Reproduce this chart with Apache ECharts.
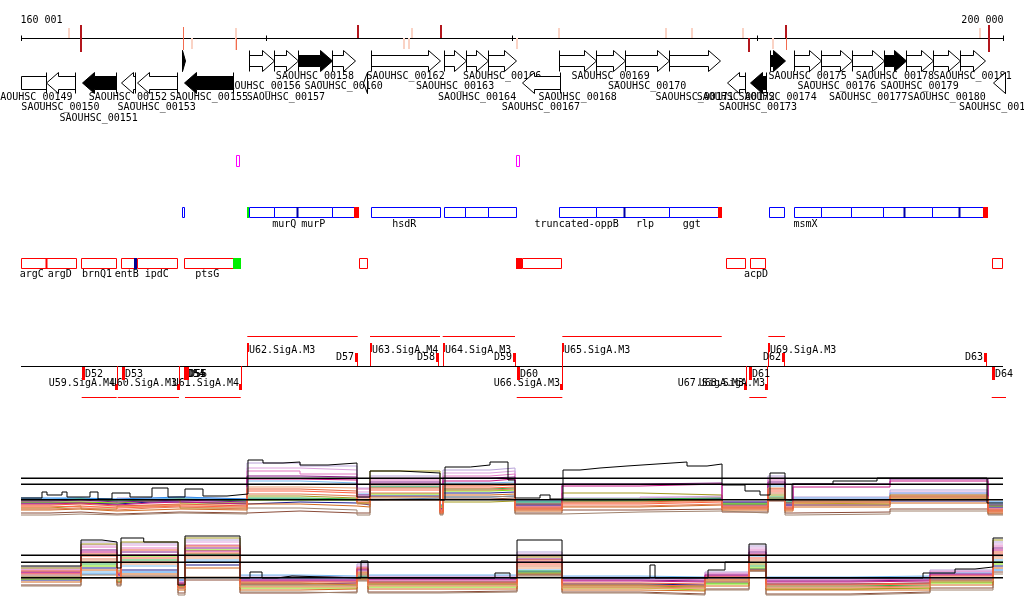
<!DOCTYPE html>
<html><head><meta charset="utf-8">
<script src="https://cdn.jsdelivr.net/npm/echarts@6/dist/echarts.min.js"></script>
<style>html,body{margin:0;padding:0;background:#fff}#c{width:1024px;height:611px}</style>
</head><body><div id="c"></div>
<script>
// ================= DATA =================
const rangeStart = 160001, rangeEnd = 200000;
const rulerTicks = [160001, 170000, 180000, 190000, 200000];
const rulerLabels = ['160 001', '200 000'];

const markPos  = [161936,162445,166600,166966,168759,168759,173728,175602,175805,175928,177109,180205,181915,186274,187333,189410,189655,190632,191162,191162,199064,199431];
const markKind = ['La','D','S','Lb','L','Sb','Da','Lb','Lb','La','Da','Lb','La','La','La','La','Db','Lb','Da','Sb','La','D'];

const geneStart = [159000,161007,162473,164062,164714,166547,166653,169300,170306,171272,172681,173932,174258,177244,178115,179036,180396,181928,183423,184604,186409,188747,189695,190510,191500,192588,193863,195154,196038,197162,198249,199607];
const geneEnd   = [161007,162213,163858,164645,166343,166681,168649,170306,171272,172681,173606,174095,177069,178115,179036,180152,181956,183423,184604,186409,188473,189492,190347,191122,192588,193863,195154,196038,197162,198249,199268,200080];
const geneStrand = [-1,-1,-1,-1,-1,1,-1,1,1,1,1,-1,1,1,1,1,-1,1,1,1,1,-1,-1,1,1,1,1,1,1,1,1,-1];
const geneHighlight = [0,0,1,0,0,1,1,0,0,1,0,0,0,0,0,0,0,0,0,0,0,0,1,1,0,0,0,1,0,0,0,0];
const geneName = ['SAOUHSC_00149','SAOUHSC_00150','SAOUHSC_00151','SAOUHSC_00152','SAOUHSC_00153','','SAOUHSC_00155','SAOUHSC_00156','SAOUHSC_00157','SAOUHSC_00158','SAOUHSC_00160','','SAOUHSC_00162','SAOUHSC_00163','SAOUHSC_00164','SAOUHSC_00166','SAOUHSC_00167','SAOUHSC_00168','SAOUHSC_00169','SAOUHSC_00170','SAOUHSC_00171','SAOUHSC_00172','SAOUHSC_00173','SAOUHSC_00174','SAOUHSC_00175','SAOUHSC_00176','SAOUHSC_00177','SAOUHSC_00178','SAOUHSC_00179','SAOUHSC_00180','SAOUHSC_00181','SAOUHSC_00182'];

const pinkStart = [168759, 180164];
const pinkEnd   = [168881, 180274];

const blueStart = [166559,169207,169300,170319,171231,172681,173565,174270,177244,178099,179036,181928,183423,184575,186396,188404,190481,191476,192576,193822,195125,195967,197122,198209,199198,171231,184575,195967,198209];
const blueEnd   = [166653,169300,170319,171231,172681,173565,173757,177056,178099,179036,180152,183423,184575,186396,188404,188567,191081,192576,193822,195125,195967,197122,198209,199198,199402,171231,184575,195967,198209];
const blueKind  = ['box','green','box','box','box','box','red','box','box','box','box','box','box','box','box','red','box','box','box','box','box','box','box','box','red','navyline','navyline','navyline','navyline'];
const blueLabelPos  = [170726,171907,175614,182636,185419,187320,191956];
const blueLabelText = ['murQ','murP','hsdR','truncated-oppB','rlp','ggt','msmX'];

const redStart = [160001,161007,162445,164074,164726,166640,173781,180396,188706,189683,199553,161007,164616,168649,180164];
const redEnd   = [161007,162229,163858,164616,166367,168649,174082,181984,189492,190307,199973,161007,164726,168950,180396];
const redKind  = ['box','box','box','box','box','box','box','box','box','box','box','div','navy','green','red'];
const redLabelPos  = [160437,161577,163097,164306,165528,167590,189940];
const redLabelText = ['argC','argD','brnQ1','entB','ipdC','ptsG','acpD'];

const fwdUnitStart = [169219,174217,177178,182050,190441];
const fwdUnitEnd   = [173716,177069,180123,188543,191122];
const revUnitStart = [162473,163940,166681,180193,189667,199541];
const revUnitEnd   = [163899,166437,168950,182050,190376,200400];
const promPos    = [169219,174217,177178,182050,190441,163899,166437,168950,182050,189520,190376];
const promStrand = [1,1,1,1,1,-1,-1,-1,-1,-1,-1];
const promName   = ['U62.SigA.M3','U63.SigA.M4','U64.SigA.M3','U65.SigA.M3','U69.SigA.M3','U59.SigA.M4','U60.SigA.M3','U61.SigA.M4','U66.SigA.M3','U67.SigA.M3','U68.SigA.M3'];
const termPos    = [173716,177040,180164,191121,199361,162473,164103,166653,166680,166705,180193,189667,199566];
const termStrand = [1,1,1,1,1,-1,-1,-1,-1,-1,-1,-1,-1];
const termName   = ['D57','D58','D59','D62','D63','D52','D53','D54','D55','D56','D60','D61','D64'];

// coverage, forward strand (panel 1): segment breakpoints and levels per sample
const fwdBreaks = [160001,161182,162445,163911,165256,166478,169207,171366,173687,174217,177068,177190,179105,180123,182038,185215,188555,190429,191121,191447,195398,199390,200000];
const fwdLilac   = [25,26,24,27,28,26,62,59,37,49,20,55,57,22,27,29,22,49,21,28,35,19];
const fwdPlum    = [23,24,22,25,26,24,57,55,33,47,18,52,54,20,25,28,20,47,19,26,33,17];
const fwdPink    = [22,23,21,23,24,22,54,51,36,45,17,49,51,19,26,27,21,45,20,25,31,18];
const fwdLblue   = [26,27,25,26,27,25,44,42,31,39,17,42,43,23,24,25,22,39,23,27,32,21];
const fwdDodger  = [27,27,26,27,28,26,26,25,25,27,20,28,29,24,25,26,23,26,24,25,26,23];
const fwdNavy    = [22,22,21,23,23,21,23,22,20,29,16,32,33,20,25,26,20,25,20,20,24,18];
const fwdGreen   = [25,26,24,25,26,24,27,26,24,38,19,36,37,23,26,27,22,28,23,23,28,20];
const fwdLime    = [23,23,22,24,25,22,25,25,22,31,18,34,35,21,24,25,21,26,22,21,26,19];
const fwdOlive   = [17,19,16,19,20,17,29,27,22,54,13,23,24,16,32,30,17,30,16,25,30,14];
const fwdPurple  = [24,25,23,24,25,23,49,48,30,43,16,47,48,21,41,42,23,43,22,41,46,20];
const fwdMvred   = [21,22,20,22,23,21,46,45,28,41,15,44,46,18,39,41,19,41,18,38,44,16];
const fwdBrown   = [12,13,11,12,13,12,14,12,12,25,11,26,27,12,15,16,13,24,12,13,16,11];
const fwdTaupe   = [10,11,10,11,12,11,17,15,10,26,10,28,29,11,13,14,12,27,10,11,14,10];
const fwdChoc    = [15,16,14,15,16,15,21,19,18,28,12,30,31,14,18,20,15,25,14,18,22,12];
const fwdLorange = [19,18,18,19,20,20,38,37,26,40,15,40,41,18,22,24,19,37,18,23,28,16];
const fwdCoral   = [16,17,15,17,18,16,31,29,21,32,12,35,36,15,19,21,16,32,15,20,25,13];
const fwdTomato  = [18,19,17,18,19,18,34,32,23,35,13,37,38,16,21,23,17,34,16,22,27,14];
const fwdOrange  = [20,21,19,20,21,19,36,34,25,37,14,39,40,17,23,25,18,36,17,24,29,15];
const fwdBlackPos = [160001,160856,161060,161671,161875,162812,163137,163708,164441,165337,165989,166681,167414,168392,169247,169858,170673,171366,172506,173687,174217,175439,177068,177272,178300,179105,179838,180123,181142,181549,182078,182771,183585,184685,185907,187129,187944,188555,189492,190103,190510,191121,191407,193076,194869,199349,200000];
const fwdBlackVal = [27,33,30,33,28,33,26,32,28,37,28,36,29,31,65,62,63,60,62,28,54,52,25,58,60,63,45,27,30,26,55,57,59,61,63,59,61,40,34,30,52,25,41,44,47,22,22];
const fwdThresholds = [46.7, 40.7, 25.3];

// coverage, reverse strand (panel 2)
const revBreaks = [160001,162445,163911,164074,166396,166681,168922,171366,173687,174135,177068,180205,182038,185215,187862,189655,190347,193769,197027,199594,200000];
const revLilac   = [33,58,30,57,20,60,24,23,36,24,24,48,23,22,28,54,22,23,30,58];
const revPlum    = [31,55,28,55,19,58,22,22,34,23,23,46,21,21,27,52,21,22,29,56];
const revPink    = [30,53,27,52,18,55,21,21,33,22,22,44,22,20,26,50,20,21,28,54];
const revLblue   = [25,28,24,34,14,40,25,24,29,25,25,30,24,23,22,44,23,24,27,40];
const revDodger  = [22,26,24,28,20,38,22,22,25,22,22,26,22,22,22,30,22,22,22,30];
const revNavy    = [20,32,18,30,12,35,16,17,23,18,18,28,16,15,18,31,16,17,20,34];
const revGreen   = [23,36,21,40,14,46,15,15,24,16,16,29,15,14,17,34,14,15,19,38];
const revLime    = [21,34,19,44,13,50,12,12,22,13,13,27,12,10,16,32,11,12,17,36];
const revOlive   = [32,56,29,58,16,62,17,15,27,16,16,43,14,13,20,36,11,12,18,60];
const revPurple  = [28,50,26,48,17,52,20,20,31,21,21,41,20,19,25,48,19,20,26,52];
const revMvred   = [27,48,25,45,16,49,19,19,30,20,20,38,19,18,24,46,18,19,25,50];
const revBrown   = [15,22,15,24,7,20,7,8,20,8,9,25,8,6,11,29,6,8,12,28];
const revTaupe   = [14,25,14,23,5,23,8,7,19,7,8,24,7,5,10,29,5,7,10,26];
const revChoc    = [18,30,17,26,10,32,10,11,21,11,11,26,10,9,14,30,10,10,15,32];
const revLorange = [22,39,20,36,11,42,13,13,25,14,14,32,12,11,18,38,12,13,19,42];
const revCoral   = [24,41,22,38,12,44,14,14,26,15,15,34,13,12,19,40,13,14,20,44];
const revTomato  = [26,44,23,42,13,47,16,16,28,17,17,36,15,14,21,42,15,16,22,46];
const revOrange  = [29,46,27,50,15,54,18,18,32,18,18,40,17,16,23,45,16,17,24,48];
const revBlackPos = [160001,162445,163300,163911,164074,165000,166396,166681,168922,169329,169818,170429,171040,173850,174135,179308,179919,180205,182038,185622,185826,187985,188677,189655,190347,196742,198046,198860,199594,200000];
const revBlackVal = [34,60,58,32,62,58,15,64,22,28,22,24,22,39,22,27,22,60,22,35,22,30,38,56,22,27,31,33,62,62];
const revThresholds = [44.7, 37.7, 22.3];

// ================= STYLE / LAYOUT =================
const FONT = '10px "DejaVu Sans Mono", monospace';
const sampleColors = ['#b9a3d9','#dda0dd','#e377c2','#74b9f0','#2f8fef','#1a1a8c','#34b34a','#7fe000','#a39a1e','#8b1a8b','#c71585','#8b4c39','#a0826d','#d2691e','#f0a070','#e07b54','#ff6347','#e8603c'];
const fwdSamples = [fwdLilac,fwdPlum,fwdPink,fwdLblue,fwdDodger,fwdNavy,fwdGreen,fwdLime,fwdOlive,fwdPurple,fwdMvred,fwdBrown,fwdTaupe,fwdChoc,fwdLorange,fwdCoral,fwdTomato,fwdOrange];
const revSamples = [revLilac,revPlum,revPink,revLblue,revDodger,revNavy,revGreen,revLime,revOlive,revPurple,revMvred,revBrown,revTaupe,revChoc,revLorange,revCoral,revTomato,revOrange];
const markStyle = {
  D:{c:'#b3161d',w:2,y1:25,y2:52}, Da:{c:'#b3161d',w:2,y1:25,y2:38}, Db:{c:'#b3161d',w:2,y1:38,y2:52},
  La:{c:'#fad3c5',w:2,y1:28,y2:38}, Lb:{c:'#fad3c5',w:2,y1:38,y2:49}, L:{c:'#fad3c5',w:2,y1:28,y2:50},
  S:{c:'#f26b4f',w:1,y1:27,y2:50}, Sb:{c:'#f26b4f',w:1,y1:38,y2:50}
};

function X(api, v) { return api.coord([v, 0])[0]; }
function txt(x, y, s, align) {
  return {type:'text', style:{text:s, x:x, y:y, font:FONT, fill:'#000', align:align, verticalAlign:'middle', textAlign:align, textVerticalAlign:'middle'}};
}
function vline(x, y1, y2, color, w) {
  return {type:'line', shape:{x1:x, y1:y1, x2:x, y2:y2}, style:{stroke:color, lineWidth:w||1}};
}
function hline(x1, x2, y, color, w) {
  return {type:'line', shape:{x1:x1, y1:y, x2:x2, y2:y}, style:{stroke:color, lineWidth:w||1}};
}
function custom(data, render, z) {
  return {type:'custom', xAxisIndex:0, yAxisIndex:0, data:data, renderItem:render, silent:true, clip:false, z:z||2, animation:false};
}

// ruler
function renderRuler(params, api) {
  const i = params.dataIndex;
  const x = Math.round(X(api, rulerTicks[i])) + 0.5;
  const ch = [vline(x, 35.5, 41, '#000', 1)];
  if (i === 0) {
    ch.push(hline(X(api, rangeStart), X(api, rangeEnd), 38.5, '#000', 1));
    ch.push(txt(x - 1, 20, rulerLabels[0], 'left'));
  }
  if (i === rulerTicks.length - 1) ch.push(txt(x, 20, rulerLabels[1], 'right'));
  return {type:'group', children:ch};
}
function renderMark(params, api) {
  const i = params.dataIndex, s = markStyle[markKind[i]];
  let x = Math.round(X(api, markPos[i]));
  if (s.w === 1) x += 0.5;
  return vline(x, s.y1, s.y2, s.c, s.w);
}
// genes
const upperRows = [76, 86.5, 97], lowerRows = [97, 107.5, 118];
function renderGene(params, api) {
  const i = params.dataIndex, cs = params.coordSys;
  const left = cs.x, right = cs.x + cs.width;
  const x1 = X(api, geneStart[i]), x2 = X(api, geneEnd[i]);
  const fwd = geneStrand[i] > 0;
  const g = fwd ? {ht:50.5, hb:71.5, bt:55.5, bb:66.5, cy:61} : {ht:72.5, hb:93.5, bt:76.5, bb:89.5, cy:83};
  const fill = geneHighlight[i] ? '#000' : '#fff';
  const st = {fill:fill, stroke:'#000', lineWidth:1};
  const a = Math.round(x1) + 0.5, b = Math.round(x2) + 0.5;
  const ch = [];
  if (fwd) {
    const head = Math.min(12, b - a), xb = b - head;
    ch.push({type:'polygon', shape:{points:[[a,g.bt],[xb,g.bt],[xb,g.ht],[b,g.cy],[xb,g.hb],[xb,g.bb],[a,g.bb]]}, style:st});
    ch.push(vline(a, g.ht, g.hb, '#000', 1));
  } else {
    if (x1 < left) {
      const l = Math.round(left) + 0.5;
      ch.push({type:'rect', shape:{x:l, y:g.bt, width:b - l, height:g.bb - g.bt}, style:st});
    } else {
      const head = Math.min(12, b - a), xb = a + head;
      ch.push({type:'polygon', shape:{points:[[b,g.bt],[xb,g.bt],[xb,g.ht],[a,g.cy],[xb,g.hb],[xb,g.bb],[b,g.bb]]}, style:st});
    }
    ch.push(vline(b, g.ht, g.hb, '#000', 1));
  }
  if (geneName[i]) {
    const cx = (Math.max(x1, left) + Math.min(x2, right)) / 2;
    const lane = i % 3;
    ch.push(txt(cx, fwd ? upperRows[lane] : lowerRows[lane], geneName[i], 'center'));
  }
  return {type:'group', children:ch};
}
function makeBoxRender(starts, ends, kinds, color, top, h) {
  const fills = {red:'#ff0000', green:'#00ee00', navy:'#00008f'};
  return function (params, api) {
    const i = params.dataIndex;
    const a = Math.round(X(api, starts[i])), b = Math.round(X(api, ends[i]));
    const k = kinds[i];
    if (k === 'box') return {type:'rect', shape:{x:a + 0.5, y:top + 0.5, width:Math.max(b - a, 1), height:h}, style:{fill:'#fff', stroke:color, lineWidth:1}};
    if (k === 'div') return {type:'rect', shape:{x:a - 0.5, y:top, width:2, height:h + 1}, style:{fill:color}};
    if (k === 'navyline') return {type:'rect', shape:{x:a - 0.5, y:top, width:2, height:h + 1}, style:{fill:'#0000a8'}};
    return {type:'rect', shape:{x:a, y:top, width:Math.max(b - a, 2), height:h + 1}, style:{fill:fills[k]}};
  };
}
function makeLabelRender(pos, text, y) {
  return function (params, api) {
    const i = params.dataIndex;
    return txt(X(api, pos[i]), y, text[i], 'center');
  };
}
// transcription units
function renderBase(params, api) {
  return hline(X(api, rangeStart), X(api, rangeEnd), 366.5, '#000', 1);
}
function makeUnitRender(starts, ends, y) {
  return function (params, api) {
    const i = params.dataIndex;
    return hline(X(api, starts[i]), Math.min(X(api, ends[i]), params.coordSys.x + params.coordSys.width + 3), y, '#ff0000', 1);
  };
}
function renderProm(params, api) {
  const i = params.dataIndex, x = Math.round(X(api, promPos[i]));
  if (promStrand[i] > 0) {
    return {type:'group', children:[
      vline(x + 0.5, 343, 366, '#ff0000', 1),
      {type:'rect', shape:{x:x, y:343, width:2, height:9}, style:{fill:'#ff0000'}},
      txt(x + 2, 350, promName[i], 'left')]};
  }
  return {type:'group', children:[
    vline(x + 0.5, 366, 390, '#ff0000', 1),
    {type:'rect', shape:{x:x - 2, y:384, width:3, height:6}, style:{fill:'#ff0000'}},
    txt(x - 2, 383.5, promName[i], 'right')]};
}
function renderTerm(params, api) {
  const i = params.dataIndex, x = Math.round(X(api, termPos[i]));
  if (termStrand[i] > 0) {
    return {type:'group', children:[
      {type:'rect', shape:{x:x - 3, y:353, width:3, height:9}, style:{fill:'#ff0000'}},
      vline(x - 0.5, 361, 366, '#ff0000', 1),
      txt(x - 4, 357.5, termName[i], 'right')]};
  }
  return {type:'group', children:[
    {type:'rect', shape:{x:x, y:367, width:3, height:13}, style:{fill:'#ff0000'}},
    txt(x + 3, 374.5, termName[i], 'left')]};
}

// ================= BUILD =================
function stepData(breaks, vals) {
  const d = vals.map((v, i) => [breaks[i], v]);
  d.push([breaks[breaks.length - 1], vals[vals.length - 1]]);
  return d;
}
function pairData(pos, vals) { return pos.map((p, i) => [p, vals[i]]); }
function lineSeries(idx, data, color, width, z, step) {
  return {type:'line', xAxisIndex:idx, yAxisIndex:idx, data:data, step:step === false ? false : 'end', symbol:'none', silent:true,
    lineStyle:{color:color, width:width}, z:z, animation:false};
}

const series = [];
series.push(custom(rulerTicks.map((t, i) => [t, 0, i]), renderRuler, 3));
series.push(custom(markPos.map((p, i) => [p, 0, i]), renderMark, 4));
series.push(custom(geneStart.map((s, i) => [s, 0, geneEnd[i]]), renderGene, 3));
series.push(custom(pinkStart.map((s, i) => [s, 0, i]), makeBoxRender(pinkStart, pinkEnd, ['box','box'], '#ff00ff', 155, 11), 3));
series.push(custom(blueStart.map((s, i) => [s, 0, i]), makeBoxRender(blueStart, blueEnd, blueKind, '#0000ff', 207, 10), 3));
series.push(custom(blueLabelPos.map((p, i) => [p, 0, i]), makeLabelRender(blueLabelPos, blueLabelText, 224.8), 3));
series.push(custom(redStart.map((s, i) => [s, 0, i]), makeBoxRender(redStart, redEnd, redKind, '#ff0000', 258, 10), 3));
series.push(custom(redLabelPos.map((p, i) => [p, 0, i]), makeLabelRender(redLabelPos, redLabelText, 274.8), 3));
series.push(custom([[rangeStart, 0, 0]], renderBase, 3));
series.push(custom(fwdUnitStart.map((s, i) => [s, 0, i]), makeUnitRender(fwdUnitStart, fwdUnitEnd, 336.5), 3));
series.push(custom(revUnitStart.map((s, i) => [s, 0, i]), makeUnitRender(revUnitStart, revUnitEnd, 397.5), 3));
series.push(custom(promPos.map((p, i) => [p, 0, i]), renderProm, 4));
series.push(custom(termPos.map((p, i) => [p, 0, i]), renderTerm, 4));

fwdSamples.forEach((vals, k) => series.push(lineSeries(1, stepData(fwdBreaks, vals), sampleColors[k], 1, 2 + k * 0.01)));
series.push(lineSeries(1, pairData(fwdBlackPos, fwdBlackVal), '#000', 1, 3));
fwdThresholds.forEach(t => series.push(lineSeries(1, [[rangeStart, t], [rangeEnd, t]], '#000', 1.6, 4, false)));
revSamples.forEach((vals, k) => series.push(lineSeries(2, stepData(revBreaks, vals), sampleColors[k], 1, 2 + k * 0.01)));
series.push(lineSeries(2, pairData(revBlackPos, revBlackVal), '#000', 1, 3));
revThresholds.forEach(t => series.push(lineSeries(2, [[rangeStart, t], [rangeEnd, t]], '#000', 1.6, 4, false)));

const xa = i => ({type:'value', gridIndex:i, min:rangeStart, max:rangeEnd, show:false});
const chart = echarts.init(document.getElementById('c'), null, {renderer:'canvas', width:1024, height:611});
chart.setOption({
  animation:false,
  backgroundColor:'#ffffff',
  grid:[{left:21, right:21, top:0, height:430}, {left:21, right:21, top:440, height:85}, {left:21, right:21, top:528, height:72}],
  xAxis:[xa(0), xa(1), xa(2)],
  yAxis:[{type:'value', gridIndex:0, min:0, max:1, show:false},
         {type:'value', gridIndex:1, min:0, max:85, show:false},
         {type:'value', gridIndex:2, min:0, max:72, show:false}],
  series:series
});
</script></body></html>
